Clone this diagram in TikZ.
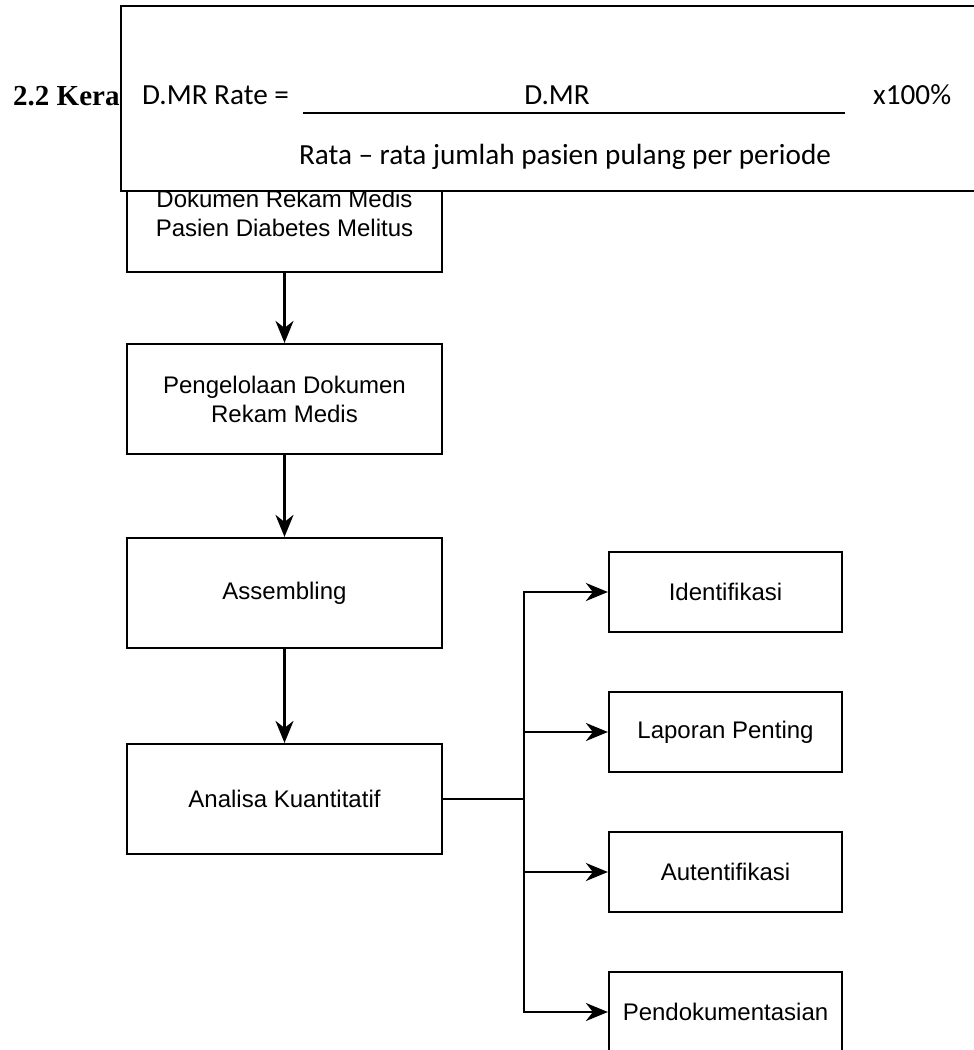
\documentclass[tikz,border=0pt]{standalone}
\usepackage{fontspec}
\setmainfont{Liberation Serif}
\newfontfamily\boxfont{Liberation Sans}
\newfontfamily\calfont{Carlito}
\usetikzlibrary{arrows.meta,positioning}

\begin{document}
\begin{tikzpicture}[x=1pt, y=-1pt,
  kotak/.style={draw, line width=2.2pt, fill=white, rectangle, inner sep=0pt, align=center, font=\boxfont\fontsize{24}{29}\selectfont},
  besar/.style={kotak, minimum width=315pt, minimum height=110pt},
  kecil/.style={kotak, minimum width=233pt, minimum height=80pt},
  panah/.style={line width=2.2pt, -{Stealth[length=22pt, width=18pt, inset=7pt]}},
  rumus/.style={font=\calfont\fontsize{29.2}{34}\selectfont, inner sep=0pt, anchor=base}]
\clip (0,0) rectangle (974,1050);
\fill[white] (0,0) rectangle (974,1050);

% judul di belakang kotak rumus
\node[font=\bfseries\fontsize{29}{34}\selectfont, anchor=base west, inner sep=0pt] (judul) at (13,105) {2.2 Kera};

% alur kiri
\node[besar, minimum height=118pt] (dokumen) at (284.5,213) {Dokumen Rekam Medis\\Pasien Diabetes Melitus};
\node[besar] (kelola) at (284.5,399) {Pengelolaan Dokumen\\Rekam Medis};
\node[besar] (assembling) at (284.5,593) {Assembling};
\node[besar] (analisa) at (284.5,799) {Analisa Kuantitatif};

% cabang kanan
\node[kecil] (identifikasi) at (725.5,592) {Identifikasi};
\node[kecil] (laporan) at (725.5,732) {Laporan Penting};
\node[kecil] (autentifikasi) at (725.5,872) {Autentifikasi};
\node[kecil] (pendokumentasian) at (725.5,1012) {Pendokumentasian};

\draw[panah] (dokumen) -- (kelola);
\draw[panah] (kelola) -- (assembling);
\draw[panah] (assembling) -- (analisa);

\coordinate (cabang) at (524,799);
\foreach \t in {identifikasi,laporan,autentifikasi,pendokumentasian}
  \draw[panah] (analisa.east) -- (cabang) |- (\t.west);

% kotak rumus menutupi bagian atas
\node[draw, fill=white, line width=1.5pt, inner sep=0pt, minimum width=880pt, minimum height=185pt] (kotakrumus) at (561,98.5) {};
\node[rumus, anchor=base west] (dmrrate) at (142,104) {D.MR Rate =};
\node[rumus] (pembilang) at (557,104) {D.MR};
\node[rumus, anchor=base west] (kali) at (873,104) {x100\%};
\node[rumus] (penyebut) at (565,164) {Rata – rata jumlah pasien pulang per periode};
\draw[line width=1.5pt] (303,113) -- (845,113);
\end{tikzpicture}
\end{document}
